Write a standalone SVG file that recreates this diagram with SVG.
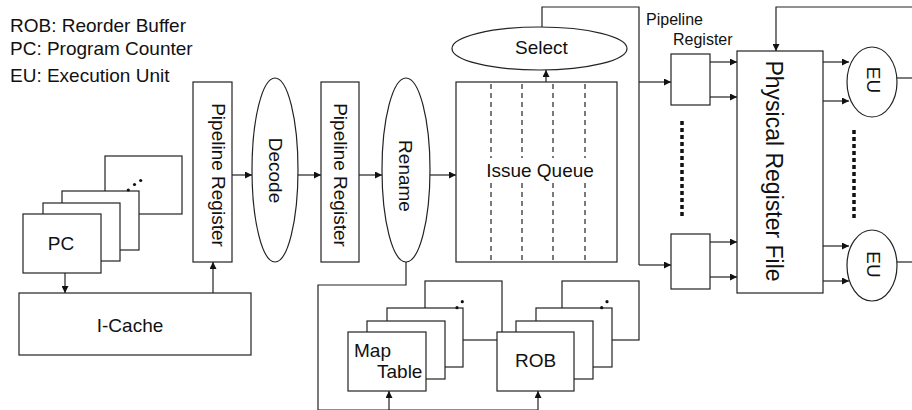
<svg xmlns="http://www.w3.org/2000/svg" width="912" height="410" viewBox="0 0 912 410">
  <defs>
    <marker id="arrow" viewBox="0 0 10 10" refX="10" refY="5" markerWidth="7" markerHeight="7" markerUnits="userSpaceOnUse" orient="auto">
      <path d="M0,0 L10,5 L0,10 z" fill="#111"/>
    </marker>
    <style>
      .box { fill: #fff; stroke: #222; stroke-width: 1.2; }
      .oval { fill: #fff; stroke: #222; stroke-width: 1.2; }
      .wire { fill: none; stroke: #222; stroke-width: 1.2; }
      .arr { fill: none; stroke: #222; stroke-width: 1.2; marker-end: url(#arrow); }
      .lane { stroke: #222; stroke-width: 1.2; stroke-dasharray: 5 4; }
      .dots { stroke: #111; stroke-width: 3.5; stroke-dasharray: 4 3; }
      .dot { fill: #111; }
      text { font-family: "Liberation Sans", Arial, sans-serif; fill: #111; }
      .t19 { font-size: 19px; }
      .t16 { font-size: 16px; }
    </style>
  </defs>
  <rect width="912" height="410" fill="#fff"/>

  <!-- abbreviations -->
  <g id="legend" class="t19">
    <text x="10" y="32">ROB: Reorder Buffer</text>
    <text x="10" y="55">PC: Program Counter</text>
    <text x="10" y="82">EU: Execution Unit</text>
  </g>

  <!-- program counter stack -->
  <g id="pc">
    <rect class="box" x="105" y="156" width="77" height="58"/>
    <rect class="box" x="62" y="191" width="77" height="59"/>
    <rect class="box" x="43" y="203" width="77" height="58"/>
    <rect class="box" x="23" y="214" width="78" height="59"/>
    <circle class="dot" cx="128.3" cy="190" r="1.6"/>
    <circle class="dot" cx="134.5" cy="184.5" r="1.6"/>
    <circle class="dot" cx="140.7" cy="180.5" r="1.6"/>
    <text class="t19" x="61" y="250" text-anchor="middle">PC</text>
  </g>

  <g id="icache">
    <rect class="box" x="19" y="293" width="232" height="62"/>
    <text class="t19" x="130" y="332" text-anchor="middle">I-Cache</text>
  </g>

  <g id="pipeline-register-1">
    <rect class="box" x="193" y="82" width="39" height="180"/>
    <text class="t19" transform="translate(211.5,175) rotate(90)" text-anchor="middle">Pipeline Register</text>
  </g>

  <g id="decode">
    <ellipse class="oval" cx="275" cy="170" rx="23" ry="92"/>
    <text class="t19" transform="translate(268.5,170.5) rotate(90)" text-anchor="middle">Decode</text>
  </g>

  <g id="pipeline-register-2">
    <rect class="box" x="321" y="82" width="38" height="180"/>
    <text class="t19" transform="translate(333.5,175) rotate(90)" text-anchor="middle">Pipeline Register</text>
  </g>

  <g id="rename">
    <ellipse class="oval" cx="406" cy="170" rx="24" ry="92"/>
    <text class="t19" transform="translate(399,176) rotate(90)" text-anchor="middle">Rename</text>
  </g>

  <g id="issue-queue">
    <rect class="box" x="456" y="82" width="161" height="180"/>
    <line class="lane" x1="491" y1="84" x2="491" y2="260"/>
    <line class="lane" x1="522" y1="84" x2="522" y2="260"/>
    <line class="lane" x1="553" y1="84" x2="553" y2="260"/>
    <line class="lane" x1="585" y1="84" x2="585" y2="260"/>
    <rect x="483" y="158" width="116" height="24" fill="#fff"/>
    <text class="t19" x="540" y="176.5" text-anchor="middle">Issue Queue</text>
  </g>

  <g id="select">
    <ellipse class="oval" cx="539.5" cy="48.5" rx="87.5" ry="21.5"/>
    <text class="t19" x="541.5" y="54" text-anchor="middle">Select</text>
  </g>

  <!-- map table stack -->
  <g id="map-table">
    <rect class="box" x="425" y="281" width="77" height="59"/>
    <rect class="box" x="387" y="308" width="76" height="59"/>
    <rect class="box" x="367" y="321" width="78" height="58"/>
    <rect class="box" x="348" y="332" width="78" height="59"/>
    <circle class="dot" cx="457" cy="307.7" r="1.6"/>
    <circle class="dot" cx="462.3" cy="301.7" r="1.6"/>
    <text class="t19" x="354" y="357">Map</text>
    <text class="t19" x="377" y="378">Table</text>
  </g>

  <!-- reorder buffer stack -->
  <g id="rob">
    <rect class="box" x="562" y="281" width="77" height="59"/>
    <rect class="box" x="536" y="308" width="76" height="59"/>
    <rect class="box" x="516" y="321" width="77" height="58"/>
    <rect class="box" x="497" y="332" width="77" height="59"/>
    <circle class="dot" cx="601.7" cy="307.7" r="1.6"/>
    <circle class="dot" cx="607" cy="301.7" r="1.6"/>
    <text class="t19" x="535.5" y="367" text-anchor="middle">ROB</text>
  </g>

  <g id="pipeline-register-label" class="t16">
    <text x="646" y="25">Pipeline</text>
    <text x="673" y="45">Register</text>
  </g>

  <g id="pipeline-register-a">
    <rect class="box" x="671" y="54" width="39" height="51"/>
  </g>
  <g id="pipeline-register-b">
    <rect class="box" x="671" y="234" width="39" height="55"/>
  </g>
  <g id="pipeline-register-gap">
    <line class="dots" x1="682" y1="121" x2="682" y2="218"/>
  </g>

  <g id="physical-register-file">
    <rect class="box" x="737" y="51" width="86" height="242"/>
    <text transform="translate(765.5,171) rotate(90)" text-anchor="middle" font-size="23">Physical Register File</text>
  </g>

  <g id="eu-1">
    <ellipse class="oval" cx="872" cy="82" rx="25" ry="35"/>
    <text class="t19" transform="translate(867,80) rotate(90)" text-anchor="middle">EU</text>
  </g>
  <g id="eu-2">
    <ellipse class="oval" cx="872" cy="265.5" rx="25" ry="35.5"/>
    <text class="t19" transform="translate(866.5,264.5) rotate(90)" text-anchor="middle">EU</text>
  </g>
  <g id="eu-gap">
    <line class="dots" x1="854" y1="130" x2="854" y2="218"/>
  </g>

  <g id="connectors">
    <line class="arr" x1="65" y1="273" x2="65" y2="293"/>
    <line class="arr" x1="213" y1="293" x2="213" y2="262"/>
    <line class="arr" x1="232" y1="175" x2="252" y2="175"/>
    <line class="arr" x1="298" y1="175" x2="321" y2="175"/>
    <line class="arr" x1="359" y1="175" x2="382" y2="175"/>
    <line class="arr" x1="430" y1="175" x2="456" y2="175"/>
    <line class="arr" x1="546" y1="82" x2="546" y2="70"/>

    <!-- select grants to the pipeline registers -->
    <path class="wire" d="M542,27 V7 H639 V265"/>
    <line class="arr" x1="639" y1="82" x2="671" y2="82"/>
    <line class="arr" x1="639" y1="265" x2="671" y2="265"/>

    <line class="arr" x1="710" y1="62" x2="737" y2="62"/>
    <line class="arr" x1="710" y1="97" x2="737" y2="97"/>
    <line class="arr" x1="710" y1="242" x2="737" y2="242"/>
    <line class="arr" x1="710" y1="277" x2="737" y2="277"/>

    <line class="arr" x1="823" y1="62" x2="849" y2="62"/>
    <line class="arr" x1="823" y1="101" x2="849" y2="101"/>
    <line class="arr" x1="823" y1="246" x2="849" y2="246"/>
    <line class="arr" x1="823" y1="281" x2="849" y2="281"/>

    <line class="wire" x1="897" y1="78" x2="912" y2="78"/>
    <line class="wire" x1="897" y1="262" x2="912" y2="262"/>

    <!-- writeback into the register file -->
    <path class="arr" d="M912,7 H776 V51"/>

    <!-- rename to map table and reorder buffer -->
    <path class="wire" d="M406,262 V285 H318 V410 H538"/>
    <line class="arr" x1="389" y1="410" x2="389" y2="391"/>
    <line class="arr" x1="538" y1="410" x2="538" y2="391"/>
  </g>
</svg>
